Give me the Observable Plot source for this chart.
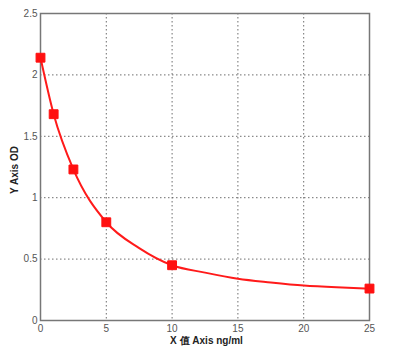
<!DOCTYPE html>
<html><head><meta charset="utf-8">
<script src="https://cdn.jsdelivr.net/npm/d3@7"></script>
<script src="https://cdn.jsdelivr.net/npm/@observablehq/plot@0.6"></script>
<style>
body{margin:0;background:#fff;}
#chart{position:relative;width:393px;height:353px;}
.xl{position:absolute;left:0;width:393px;text-align:center;top:334px;font:bold 10px "Liberation Sans",Arial,sans-serif;color:#222;}
.yl{position:absolute;left:14px;top:170px;transform:translate(-50%,-50%) rotate(-90deg);font:bold 10px "Liberation Sans",Arial,sans-serif;color:#222;white-space:nowrap;}
</style></head>
<body><div id="chart"></div>
<script>
const conc = [0, 1, 2.5, 5, 10, 25];
const od = [2.14, 1.68, 1.23, 0.80, 0.45, 0.26];
const curveX = [0, 1, 2.5, 5, 7.5, 10, 12.5, 15, 17.5, 20, 22.5, 25];
const curveY = [2.14, 1.68, 1.23, 0.80, 0.59, 0.45, 0.39, 0.34, 0.31, 0.285, 0.27, 0.26];
const xTicks = [0, 5, 10, 15, 20, 25];
const yTicks = [0, 0.5, 1, 1.5, 2, 2.5];
const xLabel = "X 值 Axis ng/ml";
const yLabel = "Y Axis OD";

const pts = conc.map((x, i) => ({x, y: od[i]}));
const cv = curveX.map((x, i) => ({x, y: curveY[i]}));

const plot = Plot.plot({
  width: 393, height: 353,
  marginLeft: 40, marginRight: 24, marginTop: 13, marginBottom: 33,
  style: {fontFamily: '"Liberation Sans", Arial, sans-serif', fontSize: "10px", color: "#555", background: "#fff"},
  x: {domain: [0, 25], ticks: xTicks, label: null, tickSize: 0, tickPadding: 4},
  y: {domain: [0, 2.5], ticks: yTicks, label: null, tickSize: 0, tickPadding: 3, tickFormat: d => String(d)},
  marks: [
    Plot.gridX(xTicks, {stroke: "#555", strokeOpacity: 0.85, strokeDasharray: "1.5,2.5", strokeWidth: 1}),
    Plot.gridY(yTicks, {stroke: "#555", strokeOpacity: 0.85, strokeDasharray: "1.5,2.5", strokeWidth: 1}),
    Plot.frame({stroke: "#777", strokeWidth: 1.5}),
    Plot.axisX(xTicks, {tickSize: 0, tickPadding: 4, fill: "#555"}),
    Plot.axisY(yTicks, {tickSize: 0, tickPadding: 3, fill: "#555", tickFormat: d => String(d)}),
    Plot.line(cv, {x: "x", y: "y", stroke: "#ff1a1a", strokeWidth: 2, curve: "monotone-x"}),
    Plot.dot(pts, {x: "x", y: "y", symbol: "square", r: 5, fill: "#ff1010", stroke: "#ff1010", strokeWidth: 1, strokeLinejoin: "round"})
  ]
});
const c = document.getElementById("chart");
c.appendChild(plot);
const xl = document.createElement("div"); xl.className = "xl"; xl.textContent = xLabel; xl.style.left = "10px"; c.appendChild(xl);
const yl = document.createElement("div"); yl.className = "yl"; yl.textContent = yLabel; c.appendChild(yl);
</script></body></html>
